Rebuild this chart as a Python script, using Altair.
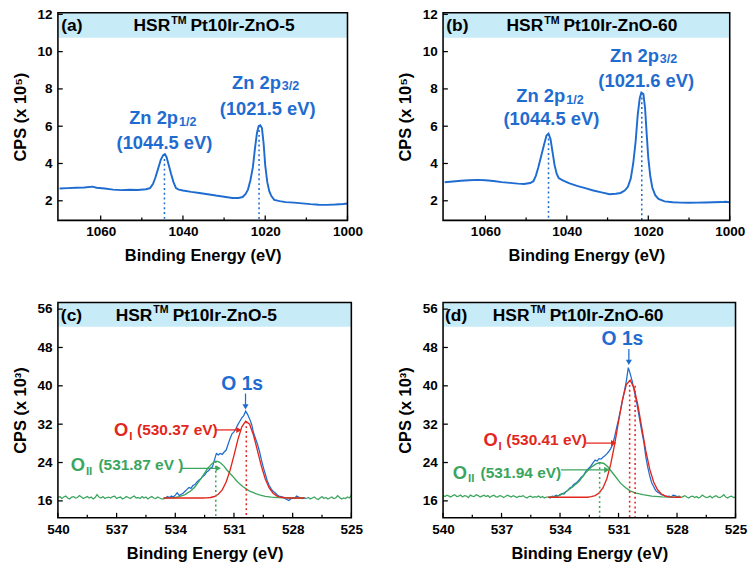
import altair as alt
import pandas as pd

BLUE = "#1f6cd1"
RED = "#e3261d"
GREEN = "#3ba55d"
BAND = "#c8ebf8"
FONT = "Liberation Sans"

# ---------------- Zn 2p spectra (a), (b) ----------------
zn5_e = [1070, 1068, 1066, 1064, 1062, 1061, 1059, 1057, 1055, 1053, 1051, 1049, 1048, 1047.3, 1046.7,
         1046.0, 1045.4, 1044.8, 1044.4, 1044.0, 1043.5, 1042.9, 1042.3, 1041.7, 1041.0, 1040, 1038, 1036,
         1034, 1032, 1030, 1028, 1026.5, 1025.5, 1024.8, 1024.2, 1023.6, 1023.0, 1022.5, 1022.0, 1021.6,
         1021.2, 1020.8, 1020.4, 1020.0, 1019.5, 1019.0, 1018.5, 1017.8, 1016.5, 1015, 1013, 1011, 1009,
         1007, 1005, 1003, 1001, 1000]
zn5_v = [2.66, 2.68, 2.70, 2.71, 2.76, 2.70, 2.66, 2.60, 2.57, 2.59, 2.58, 2.62, 2.68, 2.9, 3.25,
         3.75, 4.2, 4.45, 4.5, 4.35, 3.95, 3.45, 3.0, 2.68, 2.6, 2.55, 2.48, 2.42,
         2.35, 2.28, 2.22, 2.15, 2.15, 2.2, 2.35, 2.6, 3.1, 3.8, 4.8, 5.65, 6.0,
         6.05, 5.9, 5.1, 3.9, 3.0, 2.5, 2.25, 2.05, 1.98, 1.93, 1.9, 1.86, 1.82,
         1.79, 1.78, 1.8, 1.83, 1.85]

zn60_e = [1070, 1068, 1066, 1064, 1062, 1060, 1058, 1056, 1054, 1052, 1050.5, 1049, 1048.2, 1047.6, 1047.0,
          1046.3, 1045.6, 1045.0, 1044.5, 1044.0, 1043.5, 1043.0, 1042.5, 1042.0, 1041.0, 1039.5, 1037.5,
          1035.5, 1033.5, 1031.5, 1029.5, 1028, 1026.8, 1025.8, 1025.0, 1024.3, 1023.7, 1023.1, 1022.6,
          1022.1, 1021.7, 1021.2, 1020.8, 1020.4, 1020.0, 1019.5, 1019.0, 1018.3, 1017.5, 1016, 1014, 1012,
          1010, 1008, 1006, 1004, 1002, 1001, 1000]
zn60_v = [2.99, 3.03, 3.07, 3.1, 3.12, 3.1, 3.06, 3.0, 2.96, 2.92, 2.9, 2.95, 3.05, 3.35, 3.8,
          4.4, 5.0, 5.5, 5.6, 5.3, 4.6, 3.9, 3.45, 3.22, 3.1, 2.95, 2.8,
          2.68, 2.55, 2.45, 2.35, 2.38, 2.42, 2.55, 2.75, 3.2, 4.0, 5.2, 6.6,
          7.5, 7.8, 7.72, 7.0, 5.6, 4.3, 3.3, 2.7, 2.3, 2.1, 1.97, 1.92, 1.9,
          1.89, 1.9, 1.91, 1.92, 1.93, 1.95, 1.92]

# ---------------- O 1s spectra (c), (d) ----------------
# raw data (blue), 0.1 eV step starting at 534.6 eV
o5_raw = [16.4, 16.6, 16.9, 16.7, 17.0, 16.8, 17.2, 17.7, 17.1, 17.4, 17.6, 18.0, 18.4, 18.8, 18.6, 19.2,
          19.4, 19.9, 20.3, 20.6, 21.1, 21.4, 22.0, 22.3, 22.8, 23.1, 24.5, 25.9, 25.6, 25.9, 25.7, 26.2,
          26.6, 27.8, 29.0, 30.0, 30.4, 31.1, 31.9, 32.6, 33.3, 33.8, 34.7, 34.0, 33.1, 32.0, 30.2, 29.0,
          27.8, 26.4, 24.6, 23.0, 21.6, 20.2, 19.2, 18.5, 18.0, 17.7, 17.3, 17.0, 16.9, 16.8, 16.5, 16.3,
          16.1, 16.4, 16.6, 16.5, 17.0, 16.8, 16.6, 16.5, 16.6, 16.5]
o60_raw = [16.8, 16.6, 17.0, 16.9, 17.2, 17.0, 17.3, 17.5, 17.4, 17.9, 18.2, 18.7, 18.9, 19.4, 19.7, 20.0,
           20.5, 21.0, 21.3, 22.0, 22.5, 22.9, 23.4, 24.0, 24.5, 24.3, 24.8, 24.7, 25.1, 25.4, 25.8, 26.3,
           26.9, 27.8, 29.4, 31.2, 33.0, 34.9, 36.9, 38.9, 41.0, 43.8, 42.5, 41.0, 39.0, 37.2, 34.9, 32.6,
           30.3, 28.2, 25.2, 23.0, 21.2, 19.8, 19.0, 18.2, 17.8, 17.6, 17.3, 17.2, 17.0, 16.9, 17.0, 16.8,
           17.2, 17.1, 16.9, 16.8]

# background outside the fit window (green), 0.1 eV step
o5_left = [16.7, 16.9, 16.5, 16.8, 17.0, 16.6, 16.4, 16.8, 16.9, 16.6, 16.7, 17.1, 16.8, 16.5, 16.7, 16.9,
           16.6, 16.8, 16.4, 16.7, 17.3, 16.8, 16.6, 16.9, 16.5, 16.7, 16.8, 16.6, 16.9, 17.0, 16.5, 16.7,
           16.8, 16.4, 16.6, 16.9, 16.7, 16.5, 16.8, 17.0, 16.6, 16.7, 16.5, 16.9, 16.6, 16.8, 16.4, 16.7,
           16.9, 16.6, 16.5, 16.8, 16.6, 16.4, 16.4]
o5_right = [16.5, 16.7, 16.4, 16.6, 16.8, 16.5, 16.3, 16.6, 16.9, 16.5, 16.7, 16.4, 16.6, 16.8, 16.5,
            16.6, 17.1, 16.7, 16.4, 16.6, 16.5, 16.8, 16.6, 17.2]
o60_left = [17.1, 16.9, 17.2, 17.0, 16.8, 17.1, 17.3, 16.9, 17.0, 17.2, 16.8, 17.1, 17.0, 16.7, 17.2,
            17.0, 16.9, 17.3, 17.1, 16.8, 17.0, 17.2, 16.9, 17.1, 16.7, 17.0, 17.2, 16.9, 16.8, 17.1,
            17.0, 16.7, 16.9, 17.2, 17.0, 16.8, 17.1, 16.9, 16.7, 17.0, 16.9, 17.1, 16.8, 16.6, 16.9,
            17.0, 16.7, 16.9, 16.8, 17.0, 16.7, 16.9, 16.6, 16.8, 16.8]
o60_right = [16.8, 17.0, 16.7, 16.9, 17.1, 16.8, 16.6, 16.9, 17.0, 16.7, 16.9, 16.6, 16.8, 17.2, 16.9,
             16.7, 16.8, 17.0, 16.6, 16.9, 17.1, 16.8, 16.7, 16.9, 17.3, 16.8, 16.6, 16.9, 17.0, 16.7, 16.8]

# fitted components
o5_ol_e = [534.6, 534.4, 534.2, 534.0, 533.8, 533.6, 533.4, 533.2, 533.0, 532.8, 532.6, 532.4, 532.2,
           532.0, 531.8, 531.6, 531.4, 531.2, 531.0, 530.8, 530.6, 530.4, 530.2, 530.0, 529.8, 529.6,
           529.4, 529.2, 529.0, 528.8, 528.6, 528.4, 528.2, 528.0, 527.8, 527.6, 527.4]
o5_ol_v = [16.6, 16.6, 16.6, 16.6, 16.6, 16.6, 16.6, 16.6, 16.6, 16.6, 16.6, 16.62, 16.71,
           16.91, 17.37, 18.29, 19.92, 22.36, 25.5, 28.79, 31.43, 32.63, 31.98, 29.69, 26.5, 23.25,
           20.56, 18.7, 17.59, 17.01, 16.75, 16.65, 16.6, 16.6, 16.6, 16.6, 16.6]
o5_oll_e = [534.6, 534.2, 534.0, 533.8, 533.5, 533.2, 533.0, 532.8, 532.67, 532.5, 532.34, 532.2, 532.1,
            531.93, 531.8, 531.68, 531.5, 531.37, 531.2, 531.04, 530.87, 530.7, 530.55, 530.38, 530.2,
            530.0, 529.89, 529.7, 529.4, 529.1, 528.74, 528.4, 528.08, 527.7, 527.4]
o5_oll_v = [16.6, 16.65, 16.7, 16.9, 17.3, 18.1, 18.9, 20.0, 20.75, 21.8, 22.8, 23.4, 23.85,
            24.3, 24.2, 23.9, 23.2, 22.5, 21.7, 21.0, 20.2, 19.5, 19.0, 18.5, 18.05,
            17.7, 17.5, 17.25, 16.95, 16.78, 16.67, 16.62, 16.6, 16.6, 16.6]

o60_ol_e = [534.6, 534.4, 534.2, 534.0, 533.8, 533.6, 533.4, 533.2, 533.0, 532.8, 532.6, 532.4, 532.2,
            532.0, 531.8, 531.6, 531.4, 531.2, 531.0, 530.8, 530.6, 530.4, 530.2, 530.0, 529.8, 529.6,
            529.4, 529.2, 529.0, 528.8, 528.6, 528.4, 528.2, 528.0, 527.8]
o60_ol_v = [16.75, 16.75, 16.75, 16.75, 16.75, 16.75, 16.75, 16.75, 16.75, 16.75, 16.75, 16.88, 17.11,
            17.64, 18.71, 20.63, 23.65, 27.77, 32.54, 37.09, 40.27, 41.17, 39.52, 35.82, 31.09, 26.43,
            22.62, 19.95, 18.31, 17.44, 17.02, 16.85, 16.78, 16.75, 16.75]
o60_oll_e = [534.6, 534.2, 534.0, 533.7, 533.36, 533.03, 532.7, 532.38, 532.15, 531.97, 531.75, 531.55,
             531.22, 530.9, 530.65, 530.41, 530.1, 529.75, 529.3, 528.77, 528.3, 527.9]
o60_oll_v = [16.75, 16.95, 17.2, 17.9, 18.9, 20.05, 21.8, 23.1, 23.7, 24.0, 23.8, 23.1,
             21.4, 19.7, 18.8, 18.1, 17.6, 17.3, 17.0, 16.85, 16.78, 16.75]


def grid(start, step, vals):
    return [round(start - i * step, 3) for i in range(len(vals))]


class Panel:
    def __init__(self, W, H, xdom, ydom, xmaj, xmin, ymaj, ytitle, xfmt):
        self.W, self.H, self.ydom = W, H, ydom
        xs = alt.Scale(domain=xdom, reverse=True, nice=False, zero=False)
        ys = alt.Scale(domain=ydom, nice=False, zero=False)
        common = dict(labelOverlap=False, ticks=False, tickSize=0, domain=False, grid=False,
                      labelFont=FONT, titleFont=FONT, labelFontSize=14, titleFontSize=17,
                      labelFontWeight="bold", titleFontWeight="bold", labelColor="black",
                      titleColor="black")
        xa = alt.Axis(values=xmaj, format=xfmt, title="Binding Energy (eV)", labelFlush=False,
                      labelPadding=5, titlePadding=10, **common)
        ya = alt.Axis(values=ymaj, title=ytitle, labelPadding=6, titlePadding=8, **common)
        self.x = alt.X("e:Q", scale=xs, axis=xa)
        self.y = alt.Y("v:Q", scale=ys, axis=ya)
        self.xmaj, self.xmin, self.ymaj = xmaj, xmin, ymaj
        self.layers = []

    def line(self, es, vs, color, width):
        df = pd.DataFrame({"e": es, "v": vs})
        self.layers.append(alt.Chart(df).mark_line(color=color, strokeWidth=width, clip=True)
                           .encode(x=self.x, y=self.y, order="i:Q")
                           .transform_calculate(i="-datum.e"))

    def band(self, top, bottom):
        df = pd.DataFrame({"v": [top], "v2": [bottom]})
        self.layers.append(alt.Chart(df).mark_rect(color=BAND).encode(
            x=alt.value(0), x2=alt.value(self.W), y=self.y, y2="v2:Q"))

    def vdot(self, e, top, color):
        df = pd.DataFrame({"e": [e], "v": [top], "v2": [self.ydom[0]]})
        self.layers.append(alt.Chart(df).mark_rule(color=color, strokeWidth=1.6, strokeDash=[2, 3])
                           .encode(x=self.x, y=self.y, y2="v2:Q"))

    def arrow(self, e1, v1, e2, v2, color, shape):
        df = pd.DataFrame({"e": [e1], "v": [v1], "e2": [e2], "v2": [v2]})
        self.layers.append(alt.Chart(df).mark_rule(color=color, strokeWidth=1.3)
                           .encode(x=self.x, x2="e2:Q", y=self.y, y2="v2:Q"))
        df2 = pd.DataFrame({"e": [e2], "v": [v2]})
        self.layers.append(alt.Chart(df2).mark_point(shape=shape, filled=True, color=color, size=40,
                                                     opacity=1).encode(x=self.x, y=self.y))

    def text(self, e, v, t, size=18, color="black", align="center", dx=0, dy=0):
        df = pd.DataFrame({"e": [e], "v": [v], "t": [t]})
        self.layers.append(alt.Chart(df).mark_text(
            align=align, baseline="middle", font=FONT, fontSize=size, fontWeight="bold",
            color=color, dx=dx, dy=dy).encode(x=self.x, y=self.y, text="t:N"))

    def chart(self):
        W, H = self.W, self.H
        tk = []
        tk.append(alt.Chart(pd.DataFrame({"e": self.xmaj})).mark_rule(color="black", strokeWidth=1.3)
                  .encode(x=self.x, y=alt.value(H), y2=alt.value(H - 5)))
        tk.append(alt.Chart(pd.DataFrame({"e": self.xmin})).mark_rule(color="black", strokeWidth=1.3)
                  .encode(x=self.x, y=alt.value(H), y2=alt.value(H - 3)))
        tk.append(alt.Chart(pd.DataFrame({"v": self.ymaj})).mark_rule(color="black", strokeWidth=1.3)
                  .encode(y=self.y, x=alt.value(0), x2=alt.value(5)))
        frame = alt.Chart(pd.DataFrame({"a": [0]})).mark_rect(
            filled=False, stroke="black", strokeWidth=1.6).encode(
            x=alt.value(0), x2=alt.value(W), y=alt.value(0), y2=alt.value(H))
        return alt.layer(*self.layers, *tk, frame).properties(width=W, height=H)


def title(p, e_lab, e_anchor, v, lab, sample):
    p.text(e_lab, v, lab, 18, align="left")
    p.text(e_anchor, v, "HSR", 18, align="right")
    p.text(e_anchor, v, "TM", 11, align="left", dx=1, dy=-6)
    p.text(e_anchor, v, sample, 18, align="left", dx=21)


# ---------- (a) ----------
pa = Panel(300, 215, [1000, 1070.4], [0.95, 12.08], [1060, 1040, 1020, 1000], [1050, 1030, 1010],
           [2, 4, 6, 8, 10, 12], "CPS (x 10⁵)", "d")
pa.band(12.08, 10.75)
pa.line(zn5_e, zn5_v, BLUE, 2)
pa.vdot(1044.5, 4.5, BLUE)
pa.vdot(1021.5, 6.05, BLUE)
title(pa, 1069.6, 1043.1, 11.34, "(a)", "Pt10Ir-ZnO-5")
pa.text(1041.2, 6.45, "Zn 2p", 19, BLUE, "right")
pa.text(1041.2, 6.45, "1/2", 13, BLUE, "left", dx=1, dy=4)
pa.text(1044.5, 5.11, "(1044.5 eV)", 19, BLUE)
pa.text(1016.2, 8.33, "Zn 2p", 19, BLUE, "right")
pa.text(1016.2, 8.33, "3/2", 13, BLUE, "left", dx=1, dy=4)
pa.text(1019.4, 6.93, "(1021.5 eV)", 19, BLUE)

# ---------- (b) ----------
pb = Panel(297, 215, [1000, 1070.4], [0.95, 12.08], [1060, 1040, 1020, 1000], [1050, 1030, 1010],
           [2, 4, 6, 8, 10, 12], "CPS (x 10⁵)", "d")
pb.band(12.08, 10.75)
pb.line(zn60_e, zn60_v, BLUE, 2)
pb.vdot(1044.5, 5.6, BLUE)
pb.vdot(1021.6, 7.8, BLUE)
title(pb, 1069.6, 1045.8, 11.34, "(b)", "Pt10Ir-ZnO-60")
pb.text(1040.4, 7.62, "Zn 2p", 19, BLUE, "right")
pb.text(1040.4, 7.62, "1/2", 13, BLUE, "left", dx=1, dy=4)
pb.text(1043.8, 6.36, "(1044.5 eV)", 19, BLUE)
pb.text(1017.4, 9.78, "Zn 2p", 19, BLUE, "right")
pb.text(1017.4, 9.78, "3/2", 13, BLUE, "left", dx=1, dy=4)
pb.text(1020.5, 8.4, "(1021.6 eV)", 19, BLUE)

# ---------- (c) ----------
pc = Panel(304, 223, [525, 540], [12.5, 57.4], [540, 537, 534, 531, 528, 525],
           [538.5, 535.5, 532.5, 529.5, 526.5], [16, 24, 32, 40, 48, 56], "CPS (x 10³)", "d")
pc.band(57.4, 52.3)
pc.line(grid(540.0, 0.1, o5_left), o5_left, GREEN, 1.3)
pc.line(grid(527.3, 0.1, o5_right), o5_right, GREEN, 1.3)
pc.line(grid(534.6, 0.1, o5_raw), o5_raw, BLUE, 1.3)
pc.line(o5_oll_e, o5_oll_v, GREEN, 1.4)
pc.line(o5_ol_e, o5_ol_v, RED, 1.4)
pc.vdot(530.37, 32.6, RED)
pc.vdot(531.93, 24.3, GREEN)
title(pc, 539.85, 535.17, 54.5, "(c)", "Pt10Ir-ZnO-5")
pc.text(530.58, 40.4, "O 1s", 20, BLUE)
pc.arrow(530.41, 38.4, 530.41, 35.6, BLUE, "triangle-down")
pc.text(536.4, 30.7, "O", 19, RED, "right")
pc.text(536.4, 30.7, "I", 12, RED, "left", dx=1, dy=6)
pc.text(536.4, 30.7, "(530.37 eV)", 16, RED, "left", dx=9)
pc.arrow(531.96, 30.8, 530.75, 30.8, RED, "triangle-right")
pc.text(538.62, 23.35, "O", 19, GREEN, "right")
pc.text(538.62, 23.35, "II", 12, GREEN, "left", dx=1, dy=6)
pc.text(538.62, 23.35, "(531.87 eV )", 16, GREEN, "left", dx=14)
pc.arrow(533.69, 22.8, 531.8, 22.8, GREEN, "triangle-right")

# ---------- (d) ----------
pd_ = Panel(303, 223, [525, 540], [12.5, 57.4], [540, 537, 534, 531, 528, 525],
            [538.5, 535.5, 532.5, 529.5, 526.5], [16, 24, 32, 40, 48, 56], "CPS (x 10³)", "d")
pd_.band(57.4, 52.3)
pd_.line(grid(540.0, 0.1, o60_left), o60_left, GREEN, 1.3)
pd_.line(grid(528.0, 0.1, o60_right), o60_right, GREEN, 1.3)
pd_.line(grid(534.6, 0.1, o60_raw), o60_raw, BLUE, 1.3)
pd_.line(o60_oll_e, o60_oll_v, GREEN, 1.4)
pd_.line(o60_ol_e, o60_ol_v, RED, 1.4)
pd_.vdot(530.43, 41.2, RED)
pd_.vdot(530.15, 40.0, RED)
pd_.vdot(531.97, 24.0, GREEN)
title(pd_, 539.9, 535.57, 54.5, "(d)", "Pt10Ir-ZnO-60")
pd_.text(530.8, 49.7, "O 1s", 20, BLUE)
pd_.arrow(530.47, 47.7, 530.47, 44.9, BLUE, "triangle-down")
pd_.text(537.2, 28.7, "O", 19, RED, "right")
pd_.text(537.2, 28.7, "I", 12, RED, "left", dx=1, dy=6)
pd_.text(537.2, 28.7, "(530.41 eV)", 16, RED, "left", dx=9)
pd_.arrow(532.67, 28.05, 531.25, 28.05, RED, "triangle-right")
pd_.text(538.77, 21.85, "O", 19, GREEN, "right")
pd_.text(538.77, 21.85, "II", 12, GREEN, "left", dx=1, dy=6)
pd_.text(538.77, 21.85, "(531.94 eV)", 16, GREEN, "left", dx=14)
pd_.arrow(533.95, 22.47, 531.6, 22.47, GREEN, "triangle-right")

top = alt.hconcat(pa.chart(), pb.chart(), spacing=33)
bottom = alt.hconcat(pc.chart(), pd_.chart(), spacing=33)
chart = alt.vconcat(top, bottom, spacing=37).properties(
    padding={"left": 11, "top": -3, "right": 2, "bottom": 0}, background="white"
).configure_view(stroke="transparent")

chart.save("out.html", embed_options={"renderer": "svg", "actions": False})
